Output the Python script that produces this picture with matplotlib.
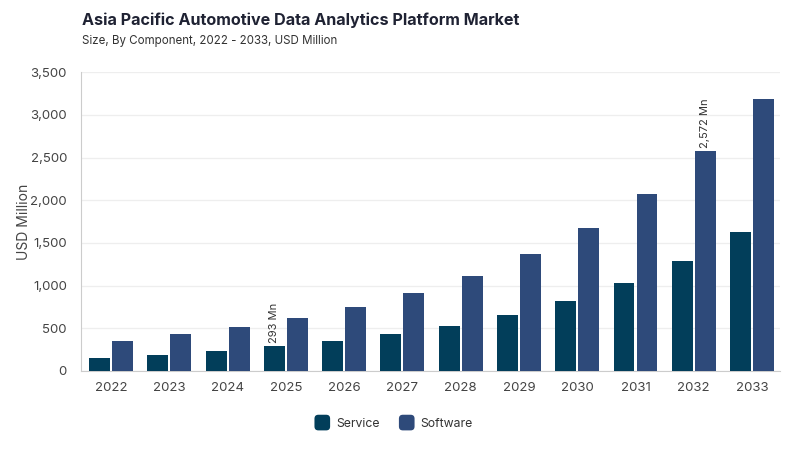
import matplotlib
matplotlib.use("Agg")
import matplotlib.pyplot as plt
from matplotlib.patches import FancyBboxPatch, Rectangle
from matplotlib.legend_handler import HandlerPatch
import numpy as np

plt.rcParams['font.family'] = ['Inter', 'DejaVu Sans']

years = ['2022', '2023', '2024', '2025', '2026', '2027', '2028', '2029', '2030', '2031', '2032', '2033']
service = [148, 191, 234, 293, 351, 430, 531, 659, 823, 1030, 1291, 1624]
software = [347, 429, 511, 620, 753, 913, 1112, 1366, 1678, 2072, 2572, 3188]
series_names = ['Service', 'Software']
colors = ['#023e5a', '#2e4a7a']
yticks = [0, 500, 1000, 1500, 2000, 2500, 3000, 3500]

fig = plt.figure(figsize=(8, 4.5), dpi=100)
ax = fig.add_axes([0.101, 0.1756, 0.874, 0.664])

x = np.arange(len(years))
w = 0.36
gap = 0.035
ax.bar(x - (w + gap) / 2, service, width=w, color=colors[0], zorder=3)
ax.bar(x + (w + gap) / 2, software, width=w, color=colors[1], zorder=3)

# annotations
i25 = years.index('2025')
ax.text(x[i25] - (w + gap) / 2, service[i25] + 40, f"{service[i25]:,} Mn", rotation=90,
        ha='center', va='bottom', fontsize=8, color='#333333')
i32 = years.index('2032')
ax.text(x[i32] + (w + gap) / 2, software[i32] + 40, f"{software[i32]:,} Mn", rotation=90,
        ha='center', va='bottom', fontsize=8, color='#333333')

ax.set_xlim(-0.52, len(years) - 0.52)
ax.set_ylim(0, 3500)
ax.set_yticks(yticks)
ax.set_yticklabels([f"{v:,}" for v in yticks])
ax.set_xticks(x)
ax.set_xticklabels(years)
ax.tick_params(axis='both', length=0, labelsize=9.5, colors='#444444')
ax.tick_params(axis='x', pad=8)
ax.tick_params(axis='y', pad=10)
ax.grid(axis='y', color='#eeeeee', linewidth=0.9, zorder=0)
for s in ['top', 'right']:
    ax.spines[s].set_visible(False)
ax.spines['left'].set_color('#cccccc')
ax.spines['bottom'].set_color('#cccccc')
ax.set_ylabel('USD Million', fontsize=10, color='#444444')
ax.yaxis.set_label_coords(-0.071, 0.5)

fig.text(0.1025, 0.955, 'Asia Pacific Automotive Data Analytics Platform Market', fontsize=11.6,
         fontweight='bold', color='#1f2233', ha='left', va='center')
fig.text(0.1025, 0.908, 'Size, By Component, 2022 - 2033, USD Million', fontsize=8.3,
         color='#333333', ha='left', va='center')


class RoundHandler(HandlerPatch):
    def create_artists(self, legend, orig_handle, xdescent, ydescent, width, height, fontsize, trans):
        s = min(width, height) * 1.25
        p = FancyBboxPatch((-xdescent + (width - s) / 2, -ydescent + (height - s) / 2), s, s,
                           boxstyle=f"round,pad=0,rounding_size={s*0.25}",
                           facecolor=orig_handle.get_facecolor(), edgecolor='none',
                           transform=trans)
        return [p]


handles = [Rectangle((0, 0), 1, 1, facecolor=c) for c in colors]
leg = fig.legend(handles, series_names, loc='center', bbox_to_anchor=(0.4925, 0.06), ncol=2,
                 frameon=False, fontsize=8.8, handlelength=1.2, handleheight=1.2,
                 columnspacing=1.6, handletextpad=0.55,
                 handler_map={Rectangle: RoundHandler()})
for t in leg.get_texts():
    t.set_color('#333333')

fig.savefig('out.png', dpi=100)
